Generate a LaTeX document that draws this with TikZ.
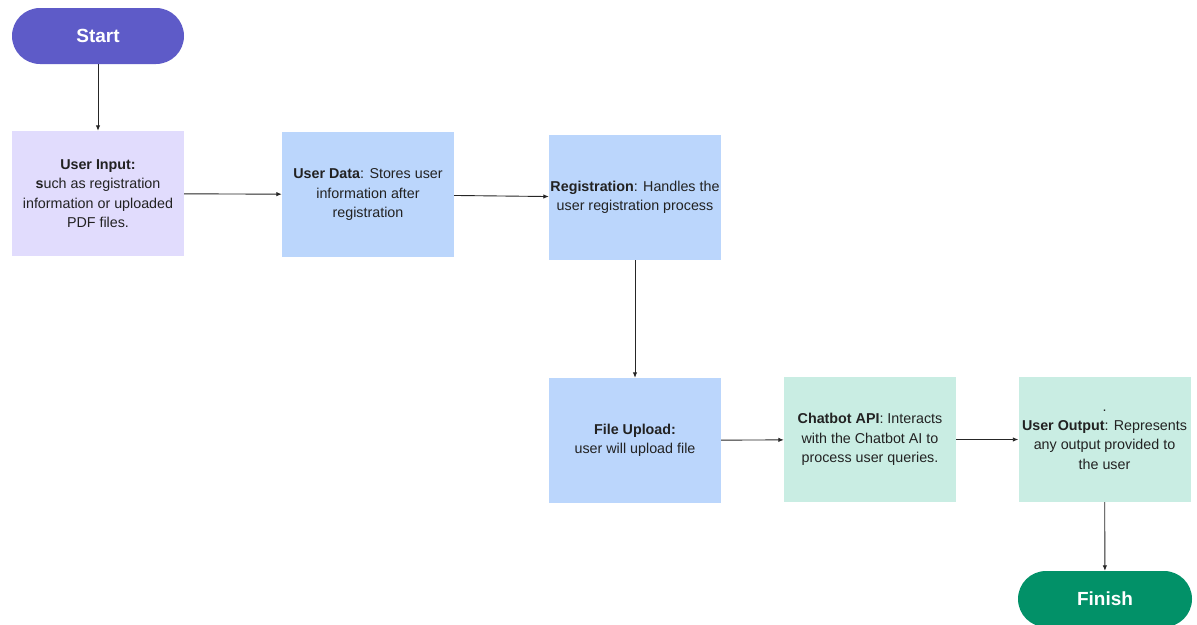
\documentclass[tikz,border=0pt]{standalone}
\usepackage{fontspec}
\setmainfont{Liberation Sans}
\usetikzlibrary{arrows.meta}
\definecolor{startc}{RGB}{94,91,200}
\definecolor{finishc}{RGB}{2,145,104}
\definecolor{lav}{RGB}{225,220,253}
\definecolor{blu}{RGB}{187,214,252}
\definecolor{mint}{RGB}{201,237,227}
\definecolor{txt}{RGB}{34,34,34}
\tikzset{
  pill/.style={rounded corners=28pt, minimum width=172pt, minimum height=56pt, inner sep=0pt, text=white, font=\fontsize{19}{21}\selectfont\bfseries},
  procbox/.style={minimum width=172pt, minimum height=125pt, inner sep=0pt, align=center, text=txt, font=\fontsize{14.3}{19.4}\selectfont},
  conn/.style={draw=black!85, line width=0.9pt, -{Latex[length=5.5pt,width=4.5pt]}}
}
\begin{document}
\begin{tikzpicture}[x=1pt,y=-1pt]
\clip (0,0) rectangle (1197,624);
\fill[white] (0,0) rectangle (1197,624);
\node[pill, fill=startc] (start) at (98,36) {Start};
\node[procbox, fill=lav] (ui) at (98,193.5) {\textbf{User Input:}\\\textbf{s}uch as registration\\information or uploaded\\PDF files.};
\node[procbox, fill=blu] (ud) at (368,194.5) {\textbf{User Data}: Stores user\\information after\\registration};
\node[procbox, fill=blu] (reg) at (635,197.5) {\textbf{Registration}: Handles the\\user registration process};
\node[procbox, fill=blu] (fu) at (635,440.5) {\textbf{File Upload:}\\user will upload file};
\node[procbox, fill=mint] (ca) at (870,439.5) {\textbf{Chatbot API}: Interacts\\with the Chatbot AI to\\process user queries.};
\node[procbox, fill=mint] (uo) at (1104.5,439.5) {.\\\textbf{User Output}: Represents\\any output provided to\\the user};
\node[pill, fill=finishc, minimum width=174pt] (fin) at (1105,599) {Finish};
\draw[conn] (start) -- (ui);
\draw[conn] (ui) -- (ud);
\draw[conn] (ud) -- (reg);
\draw[conn] (reg) -- (fu);
\draw[conn] (fu) -- (ca);
\draw[conn] (ca) -- (uo);
\draw[conn] (uo) -- (fin);
\end{tikzpicture}
\end{document}
